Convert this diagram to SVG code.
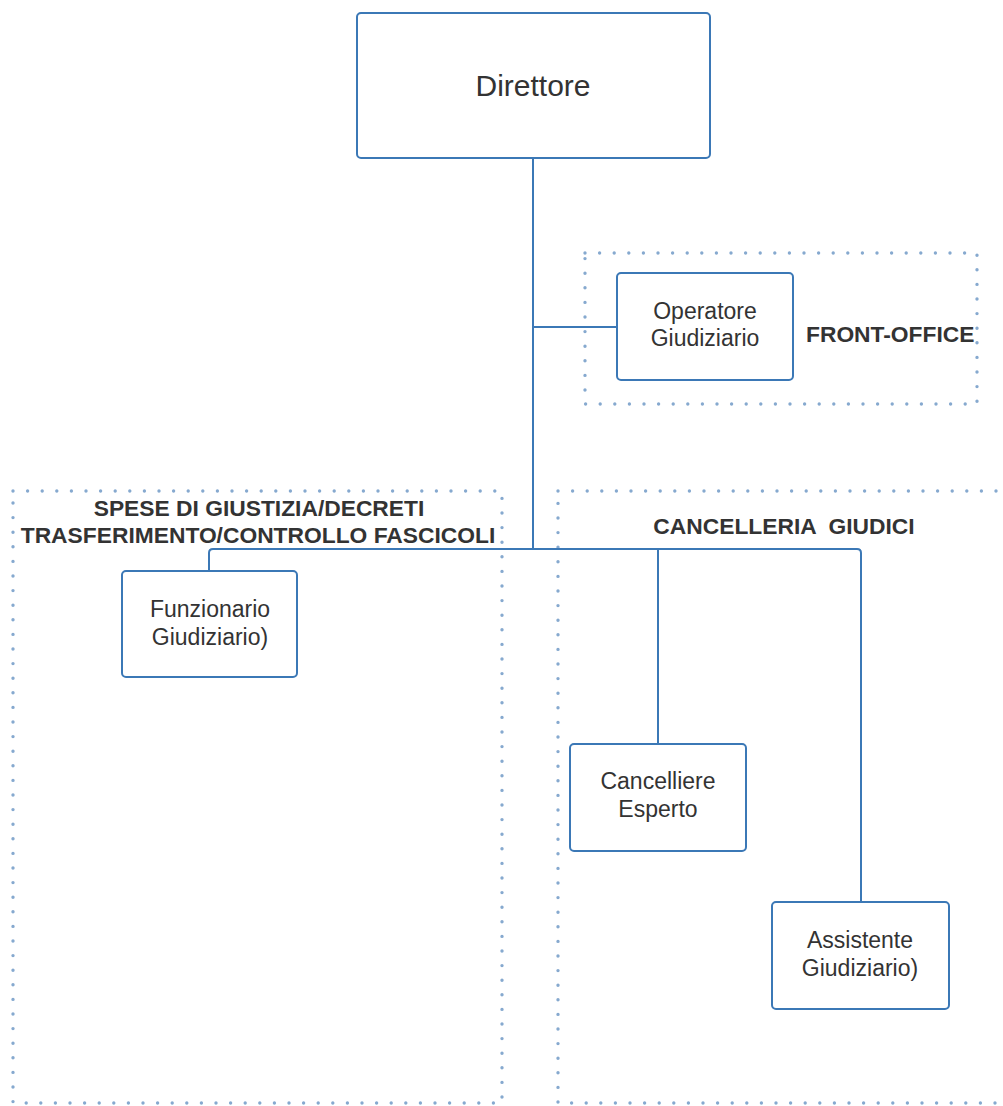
<svg xmlns="http://www.w3.org/2000/svg" width="1003" height="1106" viewBox="0 0 1003 1106">
  <style>
    .box { fill: #ffffff; stroke: #3b78b6; stroke-width: 2; }
    .wire { fill: none; stroke: #3b78b6; stroke-width: 2; }
    .zone { fill: none; stroke: #86a9cf; stroke-width: 3.4; stroke-dasharray: 0 14.6; stroke-linecap: round; }
    .lbl { font-family: "Liberation Sans", Arial, sans-serif; font-size: 23px; fill: #333333; text-anchor: middle; }
    .big { font-size: 30px; }
    .hdr { font-family: "Liberation Sans", Arial, sans-serif; font-size: 22.8px; font-weight: bold; fill: #333333; }
  </style>
  <rect width="1003" height="1106" fill="#ffffff"/>

  <!-- dotted area frames -->
  <g id="zones">
    <rect class="zone" x="585" y="253" width="392" height="151"/>
    <rect class="zone" x="13" y="491" width="489" height="612"/>
    <rect class="zone" x="558" y="491" width="460" height="612"/>
  </g>

  <!-- area titles -->
  <g id="zone-titles">
    <text class="hdr" x="806" y="342">FRONT-OFFICE</text>
    <text class="hdr" x="259" y="516" text-anchor="middle">SPESE DI GIUSTIZIA/DECRETI</text>
    <text class="hdr" x="258" y="543" text-anchor="middle">TRASFERIMENTO/CONTROLLO FASCICOLI</text>
    <text class="hdr" x="784" y="534" text-anchor="middle" xml:space="preserve">CANCELLERIA  GIUDICI</text>
  </g>

  <!-- connectors -->
  <g id="connectors">
    <path class="wire" d="M533,159 V549"/>
    <path class="wire" d="M533,327 H617"/>
    <path class="wire" d="M209,571 V553 Q209,549 213,549 H857 Q861,549 861,553 V902"/>
    <path class="wire" d="M658,549 V744"/>
  </g>

  <g id="direttore">
    <rect class="box" x="357" y="13" width="353" height="145" rx="4"/>
    <text class="lbl big" x="533" y="96">Direttore</text>
  </g>

  <g id="operatore">
    <rect class="box" x="617" y="273" width="176" height="107" rx="4"/>
    <text class="lbl" x="705" y="319">Operatore</text>
    <text class="lbl" x="705" y="346">Giudiziario</text>
  </g>

  <g id="funzionario">
    <rect class="box" x="122" y="571" width="175" height="106" rx="4"/>
    <text class="lbl" x="210" y="617">Funzionario</text>
    <text class="lbl" x="210" y="645">Giudiziario)</text>
  </g>

  <g id="cancelliere">
    <rect class="box" x="570" y="744" width="176" height="107" rx="4"/>
    <text class="lbl" x="658" y="789">Cancelliere</text>
    <text class="lbl" x="658" y="817">Esperto</text>
  </g>

  <g id="assistente">
    <rect class="box" x="772" y="902" width="177" height="107" rx="4"/>
    <text class="lbl" x="860" y="948">Assistente</text>
    <text class="lbl" x="860" y="976">Giudiziario)</text>
  </g>
</svg>
